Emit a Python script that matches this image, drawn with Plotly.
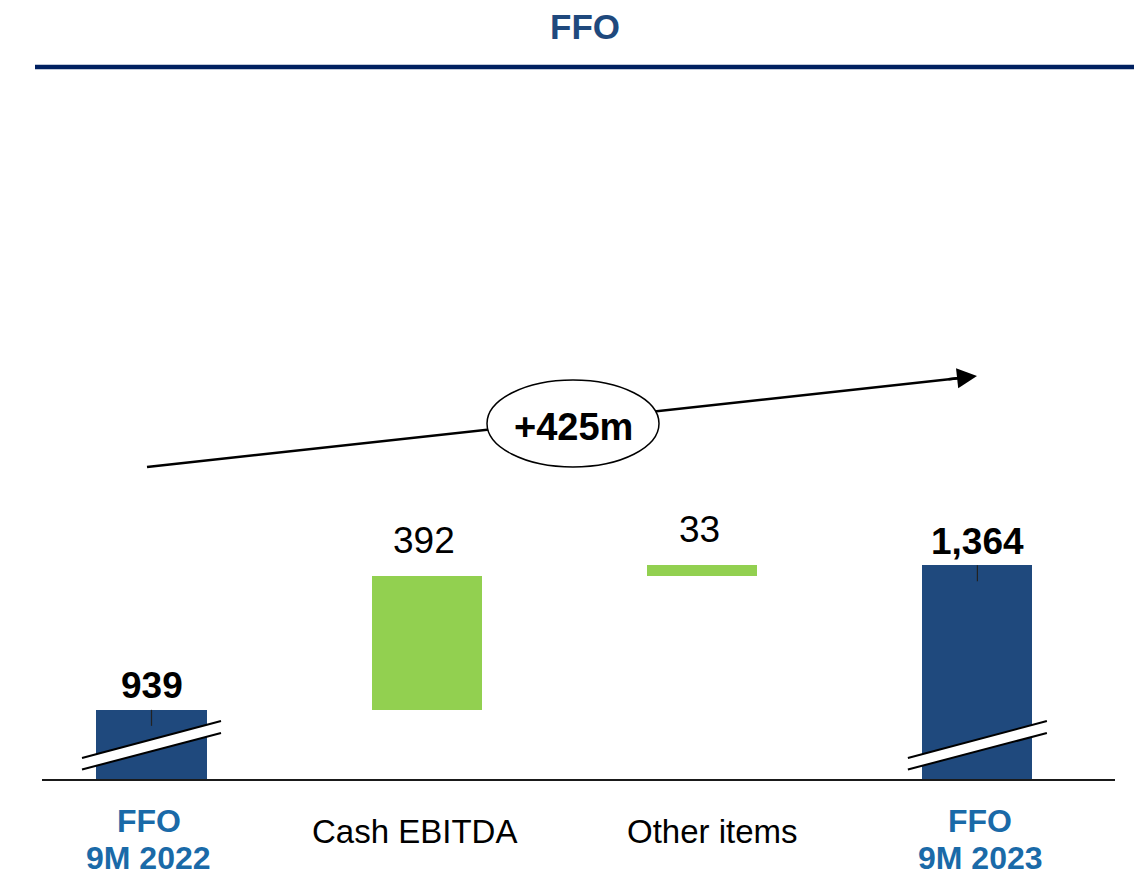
import plotly.graph_objects as go

# data
categories = ["FFO<br>9M 2022", "Cash EBITDA", "Other items", "FFO<br>9M 2023"]
values = [939, 392, 33, 1364]
measures = ["total", "delta", "delta", "total"]
value_labels = ["939", "392", "33", "1,364"]
change_label = "+425m"
title_text = "FFO"

OFF = 8                 # page margin of the browser body
W, H = 1142 - OFF, 877 - OFF
PLOT_H = 780 - OFF      # plot area bottom (pixels from figure top)
UNIT = 0.3405           # pixels per value unit
Y_MIN = 733
Y_MAX = Y_MIN + PLOT_H / UNIT
STEP = 275.3            # pixels between bar centres
X_MIN = -(151.5 - OFF) / STEP
X_MAX = X_MIN + W / STEP

NAVY = "#1F497D"
GREEN = "#92D050"
LABEL_BLUE = "#1a6aa8"
FONT = "Liberation Sans, Arial, sans-serif"
label_nudge = [-3, -12, 10, 3]   # small horizontal offsets of category labels


def px(x):
    # window pixel -> paper x
    return (x - OFF) / W


def py(y):
    # window pixel -> paper y
    return (PLOT_H - (y - OFF)) / PLOT_H


def up(pixels):
    # value offset equal to a number of pixels above the broken baseline
    return Y_MIN + pixels / UNIT


# bar bases / tops for the waterfall
xs = list(range(len(categories)))
bases, tops, colors = [], [], []
running = 0
for v, m in zip(values, measures):
    if m == "total":
        bases.append(0)
        running = v
        colors.append(NAVY)
    else:
        bases.append(running)
        running += v
        colors.append(GREEN)
    tops.append(running)

fig = go.Figure()
fig.add_trace(go.Bar(
    x=xs, y=values, base=bases, width=0.4,
    marker=dict(color=colors, line=dict(width=0)),
    hoverinfo="skip", showlegend=False))

shapes = []
annotations = []

for i, (lab, m, top) in enumerate(zip(value_labels, measures, tops)):
    bold = m == "total"
    annotations.append(dict(
        x=i, y=top, xref="x", yref="y", showarrow=False,
        text=f"<b>{lab}</b>" if bold else lab,
        yanchor="middle", yshift=24 if bold else 36,
        xshift=0 if bold else -3,
        font=dict(family=FONT, size=37, color="black")))
    lines = categories[i].split("<br>")
    n = len(lines)
    for k, line in enumerate(lines):
        yc = 831 + (n - 1) * 8.5 + (k - (n - 1) / 2) * 37
        annotations.append(dict(
            x=i, y=py(yc), xref="x", yref="paper", showarrow=False,
            text=f"<b>{line}</b>" if bold else line,
            yanchor="middle", xshift=label_nudge[i],
            font=dict(family=FONT, size=32 if bold else 33,
                      color=LABEL_BLUE if bold else "black")))
    if bold:
        # little tick mark at the top of the total bars
        shapes.append(dict(type="line", xref="x", yref="y",
                           x0=i, x1=i, y0=top, y1=top - 16 / UNIT,
                           line=dict(color="#222222", width=1.2)))
        # axis break marks
        hw = 0.2525
        shapes.append(dict(
            type="path", xref="x", yref="y",
            path=(f"M {i-hw},{up(10.5)} L {i+hw},{up(47)} "
                  f"L {i+hw},{up(59)} L {i-hw},{up(22)} Z"),
            fillcolor="white", line=dict(width=0)))
        for a, b in [(22, 59), (10.5, 47)]:
            shapes.append(dict(type="line", xref="x", yref="y",
                               x0=i - hw, x1=i + hw, y0=up(a), y1=up(b),
                               line=dict(color="black", width=2)))

# baseline
shapes.append(dict(type="line", xref="paper", yref="paper",
                   x0=px(42), x1=px(1115), y0=0, y1=0,
                   line=dict(color="#1a1a1a", width=2)))

# title rule
shapes.append(dict(type="line", xref="paper", yref="paper",
                   x0=px(35), x1=1, y0=py(67), y1=py(67),
                   line=dict(color="#002060", width=4.5)))

# trend arrow line and ellipse
shapes.append(dict(type="line", xref="paper", yref="paper",
                   x0=px(147), y0=py(467), x1=px(965), y1=py(377.5),
                   line=dict(color="black", width=2.5)))
shapes.append(dict(type="circle", xref="paper", yref="paper",
                   x0=px(487), x1=px(659), y0=py(467), y1=py(380),
                   fillcolor="white", line=dict(color="black", width=1.5)))

annotations.append(dict(
    x=px(977), y=py(376), xref="paper", yref="paper",
    ax=-30, ay=3.3, showarrow=True, arrowhead=2, arrowsize=1.6,
    arrowwidth=2.5, arrowcolor="black", text=""))
annotations.append(dict(
    x=px(573), y=py(427), xref="paper", yref="paper", showarrow=False,
    text=f"<b>{change_label}</b>",
    font=dict(family=FONT, size=38, color="black")))

# title
annotations.append(dict(
    x=px(585), y=py(27), xref="paper", yref="paper", showarrow=False,
    text=f"<b>{title_text}</b>", yanchor="middle", borderpad=0,
    font=dict(family=FONT, size=35, color=NAVY)))

fig.update_layout(
    width=W, height=H,
    margin=dict(l=0, r=0, t=0, b=H - PLOT_H, pad=0),
    paper_bgcolor="white", plot_bgcolor="white",
    xaxis=dict(range=[X_MIN, X_MAX], showgrid=False, zeroline=False,
               showticklabels=False, showline=False, fixedrange=True),
    yaxis=dict(range=[Y_MIN, Y_MAX], showgrid=False, zeroline=False,
               showticklabels=False, showline=False, fixedrange=True),
    shapes=shapes, annotations=annotations,
    bargap=0,
)

fig.write_html("out.html")
